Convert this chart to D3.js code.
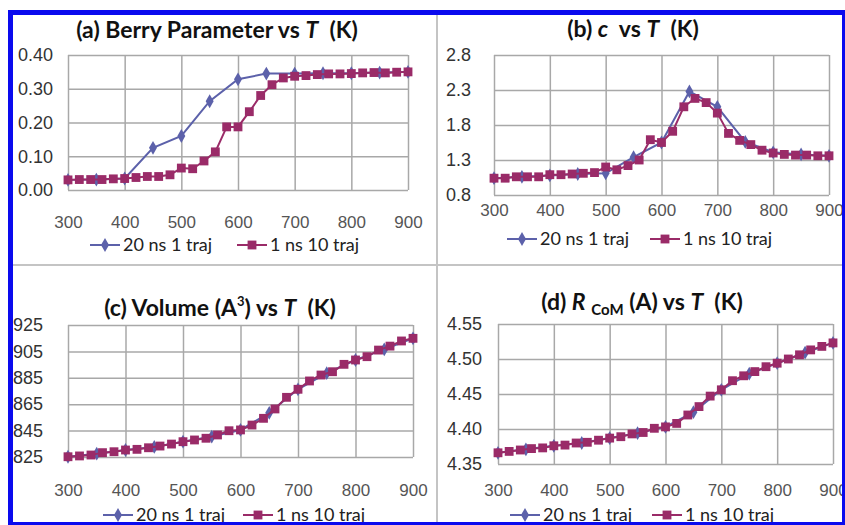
<!DOCTYPE html>
<html>
<head>
<meta charset="utf-8">
<script src="https://cdn.jsdelivr.net/npm/d3@7"></script>
<style>
  body { margin: 0; background: #fff; }
  svg { display: block; }
  .grid line { stroke: #a8a8a8; stroke-width: 1.5; }
  .grid .domain { display: none; }
  .ylab text { font-family: "Liberation Sans", Arial, sans-serif; font-size: 18px; fill: #333; }
  .xlab text { font-family: "Liberation Sans", Arial, sans-serif; font-size: 17px; fill: #555; }
  .title { font-family: Lato, "Open Sans", sans-serif; font-weight: bold; font-size: 23px; fill: #111; white-space: pre; }
  .legend text { font-family: Lato, "Open Sans", sans-serif; font-size: 18px; fill: #222; }
</style>
</head>
<body>
<svg id="chart" width="845" height="525"></svg>
<script>
// temperatures (K)
const tempsLong = [300, 350, 400, 450, 500, 550, 600, 650, 700, 750, 800, 850, 900];
const tempsShort = [300, 320, 340, 360, 380, 400, 420, 440, 460, 480, 500, 520, 540, 560, 580, 600,
  620, 640, 660, 680, 700, 720, 740, 760, 780, 800, 820, 840, 860, 880, 900];
const xTicks = [300, 400, 500, 600, 700, 800, 900];

const seriesNames = ["20 ns 1 traj", "1 ns 10 traj"];
const seriesColors = ["#5c61aa", "#9a2b68"];

// (a) Berry parameter
const berryLong = [0.030, 0.031, 0.034, 0.125, 0.160, 0.263, 0.328, 0.345, 0.345, 0.346, 0.346, 0.348, 0.350];
const berryShort = [0.030, 0.031, 0.031, 0.031, 0.033, 0.034, 0.037, 0.040, 0.040, 0.045, 0.065, 0.063,
  0.086, 0.113, 0.187, 0.187, 0.232, 0.280, 0.312, 0.332, 0.337, 0.339, 0.342, 0.344, 0.344, 0.345,
  0.347, 0.348, 0.347, 0.349, 0.350];
const berryTicks = [0, 0.1, 0.2, 0.3, 0.4];

// (b) c
const cLong = [1.04, 1.06, 1.08, 1.10, 1.11, 1.34, 1.55, 2.28, 2.06, 1.56, 1.41, 1.38, 1.36];
const cShort = [1.04, 1.04, 1.06, 1.06, 1.06, 1.09, 1.09, 1.10, 1.11, 1.12, 1.20, 1.16, 1.22, 1.30,
  1.59, 1.55, 1.71, 2.06, 2.18, 2.12, 1.97, 1.68, 1.58, 1.52, 1.44, 1.40, 1.38, 1.37, 1.37, 1.36, 1.36];
const cTicks = [0.8, 1.3, 1.8, 2.3, 2.8];

// (c) Volume
const volLong = [825.2, 827.5, 830.3, 832.6, 836.6, 840.5, 845.5, 858.5, 876.3, 888.5, 898.5, 906.5, 914.9];
const volShort = [825.2, 825.8, 826.5, 828.3, 829.0, 830.3, 830.8, 832.0, 833.3, 834.8, 836.6, 837.9,
  839.2, 841.7, 844.9, 845.5, 849.2, 854.3, 861.4, 870.2, 876.3, 882.6, 887.1, 889.6, 895.2, 898.5,
  901.0, 906.0, 909.0, 912.9, 914.9];
const volTicks = [825, 845, 865, 885, 905, 925];

// (d) R CoM
const rLong = [4.366, 4.371, 4.376, 4.380, 4.387, 4.394, 4.403, 4.424, 4.456, 4.479, 4.494, 4.509, 4.523];
const rShort = [4.366, 4.368, 4.370, 4.372, 4.373, 4.376, 4.377, 4.380, 4.381, 4.384, 4.387, 4.389,
  4.393, 4.395, 4.401, 4.403, 4.408, 4.420, 4.432, 4.447, 4.456, 4.469, 4.476, 4.482, 4.489, 4.494,
  4.500, 4.506, 4.513, 4.518, 4.523];
const rTicks = [4.35, 4.40, 4.45, 4.50, 4.55];

const svg = d3.select("#chart");

// panel layouts
const panels = [
  { long: berryLong, short: berryShort, yTicks: berryTicks, fmt: ".2f",
    x0: 68, x1: 408, yTop: 55, yBot: 190, yPad: 15, xPad: 26,
    title: [["(a) Berry Parameter vs "], ["T", "italic"], ["  (K)"]], titleX: 217, titleY: 38,
    legY: 245, legX: [90, 237] },
  { long: cLong, short: cShort, yTicks: cTicks, fmt: ".1f",
    x0: 494, x1: 829, yTop: 55, yBot: 195, yPad: 23, xPad: 9,
    title: [["(b) "], ["c", "italic"], ["  vs "], ["T", "italic"], ["  (K)"]], titleX: 633, titleY: 37,
    legY: 239, legX: [507, 650] },
  { long: volLong, short: volShort, yTicks: volTicks, fmt: "d",
    x0: 68, x1: 413, yTop: 325, yBot: 457, yPad: 25, xPad: 27,
    title: [["(c) Volume (A"], ["3", "sup"], [") vs "], ["T", "italic"], ["  (K)"]], titleX: 220, titleY: 316,
    legY: 515, legX: [103, 243] },
  { long: rLong, short: rShort, yTicks: rTicks, fmt: ".2f",
    x0: 498, x1: 833, yTop: 324, yBot: 464, yPad: 16, xPad: 20,
    title: [["(d) "], ["R", "italic"], [" "], ["CoM", "sub"], [" (A) vs "], ["T", "italic"], ["  (K)"]], titleX: 642, titleY: 310,
    legY: 515, legX: [510, 652] }
];

// divider lines between panels
svg.append("line").attr("x1", 437).attr("x2", 437).attr("y1", 12).attr("y2", 525)
  .attr("stroke", "#c4c4c4").attr("stroke-width", 2);
svg.append("line").attr("x1", 10).attr("x2", 845).attr("y1", 265).attr("y2", 265)
  .attr("stroke", "#c4c4c4").attr("stroke-width", 2);

panels.forEach(p => drawPanel(p));

// outer blue frame
svg.append("rect").attr("x", 10.5).attr("y", 12.5).attr("width", 834).attr("height", 512)
  .attr("fill", "none").attr("stroke", "#0a0aee").attr("stroke-width", 5);

function drawPanel(p) {
  const x = d3.scaleLinear().domain([300, 900]).range([p.x0, p.x1]);
  const y = d3.scaleLinear().domain(d3.extent(p.yTicks)).range([p.yBot, p.yTop]);
  const w = p.x1 - p.x0, h = p.yBot - p.yTop;

  // horizontal grid + y labels
  svg.append("g").attr("class", "grid ylab")
    .attr("transform", "translate(" + p.x0 + ",0)")
    .call(d3.axisLeft(y).tickValues(p.yTicks).tickSize(-w).tickPadding(p.yPad).tickFormat(d3.format(p.fmt)));

  // vertical grid + x labels
  svg.append("g").attr("class", "grid xlab")
    .attr("transform", "translate(0," + p.yBot + ")")
    .call(d3.axisBottom(x).tickValues(xTicks).tickSize(-h).tickPadding(p.xPad));

  // series: blue first, magenta on top
  const sets = [
    { xs: tempsLong, ys: p.long, sym: d3.symbol(d3.symbolDiamond, 55), color: seriesColors[0] },
    { xs: tempsShort, ys: p.short, sym: d3.symbol(d3.symbolSquare, 78), color: seriesColors[1] }
  ];
  sets.forEach(s => {
    const pts = s.xs.map((t, i) => [t, s.ys[i]]);
    svg.append("path")
      .datum(pts)
      .attr("fill", "none")
      .attr("stroke", s.color)
      .attr("stroke-width", 2)
      .attr("d", d3.line().x(d => x(d[0])).y(d => y(d[1])));
    svg.append("g").selectAll("path")
      .data(pts)
      .enter().append("path")
      .attr("transform", d => "translate(" + x(d[0]) + "," + y(d[1]) + ")")
      .attr("d", s.sym)
      .attr("fill", s.color);
  });

  // title
  const title = svg.append("text").attr("class", "title")
    .attr("x", p.titleX).attr("y", p.titleY).attr("text-anchor", "middle");
  p.title.forEach(part => {
    const ts = title.append("tspan").text(part[0]);
    if (part[1] === "italic") ts.style("font-style", "italic");
    if (part[1] === "sup") ts.attr("font-size", 13).attr("dy", -10);
    if (part[1] === "sub") ts.attr("font-size", 15).attr("dy", 5);
  });
  // undo baseline shifts after sup/sub
  title.selectAll("tspan").each(function(d, i) {
    const prev = p.title[i - 1];
    if (prev && prev[1] === "sup") d3.select(this).attr("dy", 10);
    if (prev && prev[1] === "sub") d3.select(this).attr("dy", -5);
  });

  // legend
  const leg = svg.append("g").attr("class", "legend");
  sets.forEach((s, i) => {
    const lx = p.legX[i];
    leg.append("line").attr("x1", lx).attr("x2", lx + 30).attr("y1", p.legY).attr("y2", p.legY)
      .attr("stroke", s.color).attr("stroke-width", 2);
    leg.append("path").attr("transform", "translate(" + (lx + 15) + "," + p.legY + ")")
      .attr("d", s.sym).attr("fill", s.color);
    leg.append("text").attr("x", lx + 33).attr("y", p.legY).attr("dy", "0.35em")
      .text(seriesNames[i]);
  });
}
</script>
</body>
</html>
